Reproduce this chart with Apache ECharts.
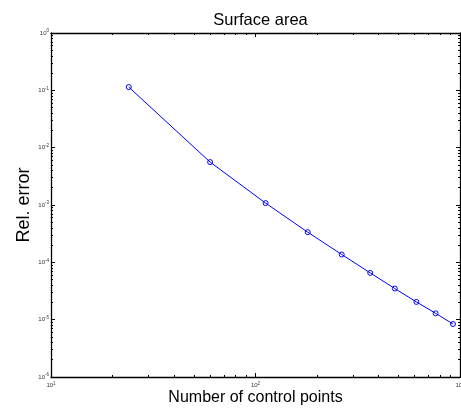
<!DOCTYPE html>
<html>
<head>
<meta charset="utf-8">
<script src="https://cdn.jsdelivr.net/npm/echarts@6/dist/echarts.min.js"></script>
<style>
  html, body { margin: 0; padding: 0; background: #fff; }
  #chart { width: 461px; height: 409px; }
</style>
</head>
<body>
<div id="chart"></div>
<script>
// number of control points vs relative error
const controlPoints = [24, 60, 112, 180, 264, 364, 480, 612, 760, 924];
const relError = [0.114, 0.0056, 0.00108, 0.000336, 0.000137, 0.0000654, 0.0000349, 0.0000204, 0.0000129, 0.0000084];

const xRange = [10, 1000];
const yRange = [1e-6, 1];

// minor ticks 2..9 in every decade
function decadeMinors(lo, hi) {
    const out = [];
    for (let d = lo; d < hi; d *= 10) {
        for (let k = 2; k <= 9; k++) out.push(+(k * d).toPrecision(3));
    }
    return out;
}
const xMinor = decadeMinors(xRange[0], xRange[1]);
const yMinor = decadeMinors(yRange[0], yRange[1]);

const font = 'Liberation Sans, Arial, Helvetica, sans-serif';

function powLabel(v) {
    const e = Math.round(Math.log10(v));
    return '{b|10}{e|' + e + '}';
}
const labelRich = {
    b: { fontSize: 6, color: '#333', fontFamily: font },
    e: { fontSize: 4.5, color: '#333', fontFamily: font, padding: [0, 0, 4, 0] }
};

function makeAxis(dim, pos, range, minor, withLabel) {
    const ax = {
        type: 'log',
        logBase: 10,
        position: pos,
        min: range[0],
        max: range[1],
        splitLine: { show: false },
        axisLine: { show: !minor, onZero: false, lineStyle: { color: '#000', width: 1.3 } },
        axisTick: {
            show: true,
            inside: true,
            length: minor ? 2 : 4,
            lineStyle: { color: '#000', width: 1 }
        },
        axisLabel: { show: false }
    };
    if (minor) ax.axisTick.customValues = minor;
    if (withLabel) {
        ax.axisLabel = {
            show: true,
            formatter: powLabel,
            rich: labelRich,
            margin: dim === 'x' ? 4 : 2,
            showMinLabel: true,
            showMaxLabel: true
        };
        ax.name = dim === 'x' ? 'Number of control points' : 'Rel. error';
        ax.nameLocation = 'middle';
        ax.nameMoveOverlap = false;
        ax.nameGap = dim === 'x' ? 13 : 18;
        ax.nameTextStyle = { fontSize: dim === 'x' ? 16 : 18, color: '#000', fontFamily: font };
    }
    return ax;
}

const chart = echarts.init(document.getElementById('chart'));

chart.setOption({
    animation: false,
    backgroundColor: '#fff',
    title: {
        text: 'Surface area',
        left: 255.5,
        top: 7,
        textAlign: 'center',
        textStyle: { fontSize: 16.5, fontWeight: 'normal', color: '#000', fontFamily: font }
    },
    grid: { left: 51, right: 1, top: 33, bottom: 32, containLabel: false, outerBoundsMode: 'none' },
    xAxis: [
        makeAxis('x', 'bottom', xRange, null, true),
        makeAxis('x', 'bottom', xRange, xMinor, false),
        makeAxis('x', 'top', xRange, null, false),
        makeAxis('x', 'top', xRange, xMinor, false)
    ],
    yAxis: [
        makeAxis('y', 'left', yRange, null, true),
        makeAxis('y', 'left', yRange, yMinor, false),
        makeAxis('y', 'right', yRange, null, false),
        makeAxis('y', 'right', yRange, yMinor, false)
    ],
    series: [
        {
            type: 'line',
            xAxisIndex: 0,
            yAxisIndex: 0,
            data: controlPoints.map((x, i) => [x, relError[i]]),
            symbol: 'circle',
            symbolSize: 5,
            showAllSymbol: true,
            lineStyle: { color: '#0000ff', width: 1 },
            itemStyle: { color: 'rgba(0,0,0,0)', borderColor: '#0000ff', borderWidth: 1 }
        }
    ]
});
</script>
</body>
</html>
